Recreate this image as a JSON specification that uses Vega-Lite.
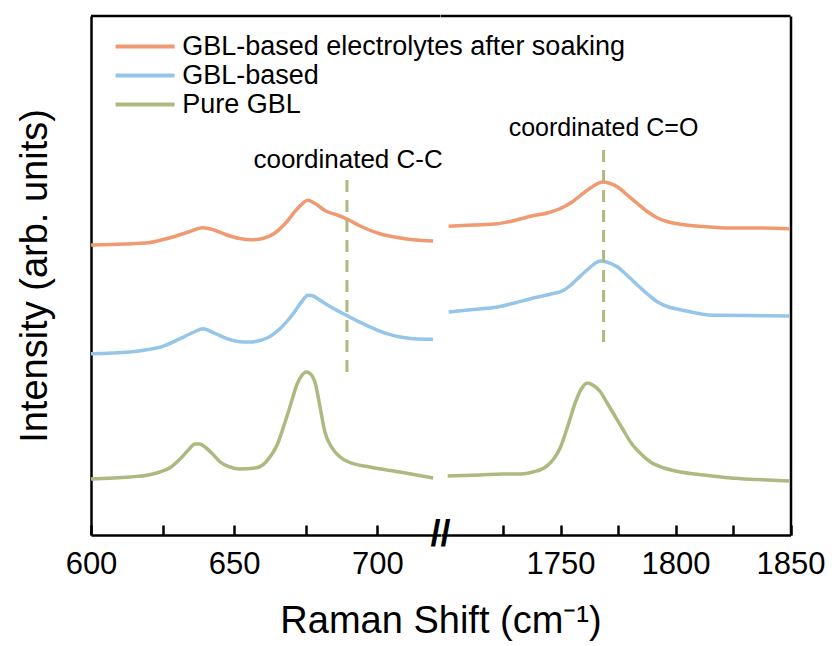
{
  "$schema": "https://vega.github.io/schema/vega-lite/v6.json",
  "background": "white",
  "padding": {"left": 16, "top": 14, "right": 30, "bottom": 5},
  "spacing": 0,
  "bounds": "flush",
  "config": {"view": {"stroke": null}, "font": "Liberation Sans", "concat": {"spacing": 0}},
  "resolve": {"legend": {"color": "independent"}},
  "datasets": {
    "spectra": [
      {"s": "GBL-based electrolytes after soaking", "seg": "L", "x": 600, "y": 290},
      {"s": "GBL-based electrolytes after soaking", "seg": "L", "x": 612, "y": 291},
      {"s": "GBL-based electrolytes after soaking", "seg": "L", "x": 620, "y": 292.3},
      {"s": "GBL-based electrolytes after soaking", "seg": "L", "x": 628, "y": 297.5},
      {"s": "GBL-based electrolytes after soaking", "seg": "L", "x": 634, "y": 303},
      {"s": "GBL-based electrolytes after soaking", "seg": "L", "x": 639, "y": 307.3},
      {"s": "GBL-based electrolytes after soaking", "seg": "L", "x": 643, "y": 305},
      {"s": "GBL-based electrolytes after soaking", "seg": "L", "x": 647, "y": 300.5},
      {"s": "GBL-based electrolytes after soaking", "seg": "L", "x": 652, "y": 296.5},
      {"s": "GBL-based electrolytes after soaking", "seg": "L", "x": 656, "y": 295.3},
      {"s": "GBL-based electrolytes after soaking", "seg": "L", "x": 660, "y": 296.5},
      {"s": "GBL-based electrolytes after soaking", "seg": "L", "x": 664, "y": 301.5},
      {"s": "GBL-based electrolytes after soaking", "seg": "L", "x": 668, "y": 312},
      {"s": "GBL-based electrolytes after soaking", "seg": "L", "x": 672, "y": 326},
      {"s": "GBL-based electrolytes after soaking", "seg": "L", "x": 675.8, "y": 334.7},
      {"s": "GBL-based electrolytes after soaking", "seg": "L", "x": 678, "y": 332},
      {"s": "GBL-based electrolytes after soaking", "seg": "L", "x": 682, "y": 324},
      {"s": "GBL-based electrolytes after soaking", "seg": "L", "x": 686, "y": 320},
      {"s": "GBL-based electrolytes after soaking", "seg": "L", "x": 689.4, "y": 316},
      {"s": "GBL-based electrolytes after soaking", "seg": "L", "x": 694, "y": 309},
      {"s": "GBL-based electrolytes after soaking", "seg": "L", "x": 700.9, "y": 301.3},
      {"s": "GBL-based electrolytes after soaking", "seg": "L", "x": 707, "y": 297.5},
      {"s": "GBL-based electrolytes after soaking", "seg": "L", "x": 712.5, "y": 295.3},
      {"s": "GBL-based electrolytes after soaking", "seg": "L", "x": 719.5, "y": 294},
      {"s": "GBL-based", "seg": "L", "x": 600, "y": 181.3},
      {"s": "GBL-based", "seg": "L", "x": 613.6, "y": 183},
      {"s": "GBL-based", "seg": "L", "x": 620, "y": 185.5},
      {"s": "GBL-based", "seg": "L", "x": 625.1, "y": 188.7},
      {"s": "GBL-based", "seg": "L", "x": 631.1, "y": 196.3},
      {"s": "GBL-based", "seg": "L", "x": 636, "y": 203},
      {"s": "GBL-based", "seg": "L", "x": 639.1, "y": 206.3},
      {"s": "GBL-based", "seg": "L", "x": 643, "y": 202},
      {"s": "GBL-based", "seg": "L", "x": 647.5, "y": 196.3},
      {"s": "GBL-based", "seg": "L", "x": 652, "y": 193.3},
      {"s": "GBL-based", "seg": "L", "x": 655.5, "y": 193},
      {"s": "GBL-based", "seg": "L", "x": 659, "y": 194.5},
      {"s": "GBL-based", "seg": "L", "x": 661.5, "y": 197},
      {"s": "GBL-based", "seg": "L", "x": 666, "y": 206.3},
      {"s": "GBL-based", "seg": "L", "x": 670.6, "y": 221.3},
      {"s": "GBL-based", "seg": "L", "x": 673.5, "y": 233},
      {"s": "GBL-based", "seg": "L", "x": 675.8, "y": 239.7},
      {"s": "GBL-based", "seg": "L", "x": 678, "y": 238.5},
      {"s": "GBL-based", "seg": "L", "x": 680, "y": 234.7},
      {"s": "GBL-based", "seg": "L", "x": 683.5, "y": 228.5},
      {"s": "GBL-based", "seg": "L", "x": 687, "y": 223},
      {"s": "GBL-based", "seg": "L", "x": 695, "y": 211.3},
      {"s": "GBL-based", "seg": "L", "x": 703.4, "y": 201.3},
      {"s": "GBL-based", "seg": "L", "x": 712.5, "y": 196.3},
      {"s": "GBL-based", "seg": "L", "x": 719.5, "y": 195.7},
      {"s": "Pure GBL", "seg": "L", "x": 600, "y": 56},
      {"s": "Pure GBL", "seg": "L", "x": 613.6, "y": 58},
      {"s": "Pure GBL", "seg": "L", "x": 620, "y": 60},
      {"s": "Pure GBL", "seg": "L", "x": 624.1, "y": 63},
      {"s": "Pure GBL", "seg": "L", "x": 628, "y": 68},
      {"s": "Pure GBL", "seg": "L", "x": 631.1, "y": 76},
      {"s": "Pure GBL", "seg": "L", "x": 634, "y": 85},
      {"s": "Pure GBL", "seg": "L", "x": 636.3, "y": 91},
      {"s": "Pure GBL", "seg": "L", "x": 638, "y": 91},
      {"s": "Pure GBL", "seg": "L", "x": 639.8, "y": 88},
      {"s": "Pure GBL", "seg": "L", "x": 642.5, "y": 81},
      {"s": "Pure GBL", "seg": "L", "x": 645.1, "y": 73},
      {"s": "Pure GBL", "seg": "L", "x": 648.5, "y": 68},
      {"s": "Pure GBL", "seg": "L", "x": 652, "y": 66},
      {"s": "Pure GBL", "seg": "L", "x": 657.3, "y": 67},
      {"s": "Pure GBL", "seg": "L", "x": 660, "y": 70},
      {"s": "Pure GBL", "seg": "L", "x": 662.5, "y": 78},
      {"s": "Pure GBL", "seg": "L", "x": 665, "y": 90},
      {"s": "Pure GBL", "seg": "L", "x": 667.8, "y": 113},
      {"s": "Pure GBL", "seg": "L", "x": 670, "y": 133},
      {"s": "Pure GBL", "seg": "L", "x": 672, "y": 151},
      {"s": "Pure GBL", "seg": "L", "x": 673.5, "y": 159},
      {"s": "Pure GBL", "seg": "L", "x": 675.2, "y": 163},
      {"s": "Pure GBL", "seg": "L", "x": 676.7, "y": 161},
      {"s": "Pure GBL", "seg": "L", "x": 678.5, "y": 150},
      {"s": "Pure GBL", "seg": "L", "x": 680, "y": 128},
      {"s": "Pure GBL", "seg": "L", "x": 681.7, "y": 103},
      {"s": "Pure GBL", "seg": "L", "x": 684, "y": 88},
      {"s": "Pure GBL", "seg": "L", "x": 687, "y": 78},
      {"s": "Pure GBL", "seg": "L", "x": 690, "y": 73},
      {"s": "Pure GBL", "seg": "L", "x": 697.4, "y": 68},
      {"s": "Pure GBL", "seg": "L", "x": 707.9, "y": 63},
      {"s": "Pure GBL", "seg": "L", "x": 719.5, "y": 57},
      {"s": "GBL-based electrolytes after soaking", "seg": "R", "x": 1701.3, "y": 308.7},
      {"s": "GBL-based electrolytes after soaking", "seg": "R", "x": 1712, "y": 310},
      {"s": "GBL-based electrolytes after soaking", "seg": "R", "x": 1722.6, "y": 311.3},
      {"s": "GBL-based electrolytes after soaking", "seg": "R", "x": 1730, "y": 314.5},
      {"s": "GBL-based electrolytes after soaking", "seg": "R", "x": 1737, "y": 318.7},
      {"s": "GBL-based electrolytes after soaking", "seg": "R", "x": 1745, "y": 322.5},
      {"s": "GBL-based electrolytes after soaking", "seg": "R", "x": 1751.3, "y": 328},
      {"s": "GBL-based electrolytes after soaking", "seg": "R", "x": 1755, "y": 333},
      {"s": "GBL-based electrolytes after soaking", "seg": "R", "x": 1758.7, "y": 339.7},
      {"s": "GBL-based electrolytes after soaking", "seg": "R", "x": 1763, "y": 347},
      {"s": "GBL-based electrolytes after soaking", "seg": "R", "x": 1768.3, "y": 353},
      {"s": "GBL-based electrolytes after soaking", "seg": "R", "x": 1771, "y": 352},
      {"s": "GBL-based electrolytes after soaking", "seg": "R", "x": 1774.8, "y": 348},
      {"s": "GBL-based electrolytes after soaking", "seg": "R", "x": 1779, "y": 340},
      {"s": "GBL-based electrolytes after soaking", "seg": "R", "x": 1783.5, "y": 331.3},
      {"s": "GBL-based electrolytes after soaking", "seg": "R", "x": 1788, "y": 323},
      {"s": "GBL-based electrolytes after soaking", "seg": "R", "x": 1792.2, "y": 317},
      {"s": "GBL-based electrolytes after soaking", "seg": "R", "x": 1797, "y": 313},
      {"s": "GBL-based electrolytes after soaking", "seg": "R", "x": 1802.2, "y": 310.7},
      {"s": "GBL-based electrolytes after soaking", "seg": "R", "x": 1812, "y": 308.5},
      {"s": "GBL-based electrolytes after soaking", "seg": "R", "x": 1823.9, "y": 307},
      {"s": "GBL-based electrolytes after soaking", "seg": "R", "x": 1838.3, "y": 307},
      {"s": "GBL-based electrolytes after soaking", "seg": "R", "x": 1849.5, "y": 306.3},
      {"s": "GBL-based", "seg": "R", "x": 1701.3, "y": 223},
      {"s": "GBL-based", "seg": "R", "x": 1712, "y": 225.5},
      {"s": "GBL-based", "seg": "R", "x": 1722.6, "y": 228},
      {"s": "GBL-based", "seg": "R", "x": 1730, "y": 232},
      {"s": "GBL-based", "seg": "R", "x": 1737, "y": 236.3},
      {"s": "GBL-based", "seg": "R", "x": 1745, "y": 240.5},
      {"s": "GBL-based", "seg": "R", "x": 1751.3, "y": 244.7},
      {"s": "GBL-based", "seg": "R", "x": 1754.5, "y": 250},
      {"s": "GBL-based", "seg": "R", "x": 1757.4, "y": 256.3},
      {"s": "GBL-based", "seg": "R", "x": 1762, "y": 266},
      {"s": "GBL-based", "seg": "R", "x": 1767.4, "y": 274},
      {"s": "GBL-based", "seg": "R", "x": 1770, "y": 273},
      {"s": "GBL-based", "seg": "R", "x": 1774.8, "y": 268},
      {"s": "GBL-based", "seg": "R", "x": 1779, "y": 259.5},
      {"s": "GBL-based", "seg": "R", "x": 1783.5, "y": 249.7},
      {"s": "GBL-based", "seg": "R", "x": 1788, "y": 240.5},
      {"s": "GBL-based", "seg": "R", "x": 1792.2, "y": 233},
      {"s": "GBL-based", "seg": "R", "x": 1797, "y": 228},
      {"s": "GBL-based", "seg": "R", "x": 1802.2, "y": 225.3},
      {"s": "GBL-based", "seg": "R", "x": 1816.5, "y": 219.7},
      {"s": "GBL-based", "seg": "R", "x": 1831.3, "y": 219.5},
      {"s": "GBL-based", "seg": "R", "x": 1840, "y": 219.3},
      {"s": "GBL-based", "seg": "R", "x": 1849.5, "y": 219},
      {"s": "Pure GBL", "seg": "R", "x": 1700.9, "y": 59},
      {"s": "Pure GBL", "seg": "R", "x": 1715, "y": 60},
      {"s": "Pure GBL", "seg": "R", "x": 1725, "y": 61},
      {"s": "Pure GBL", "seg": "R", "x": 1732.6, "y": 61},
      {"s": "Pure GBL", "seg": "R", "x": 1738, "y": 63},
      {"s": "Pure GBL", "seg": "R", "x": 1743.5, "y": 68},
      {"s": "Pure GBL", "seg": "R", "x": 1747, "y": 76},
      {"s": "Pure GBL", "seg": "R", "x": 1750, "y": 88},
      {"s": "Pure GBL", "seg": "R", "x": 1753, "y": 108},
      {"s": "Pure GBL", "seg": "R", "x": 1756.5, "y": 133},
      {"s": "Pure GBL", "seg": "R", "x": 1759, "y": 146},
      {"s": "Pure GBL", "seg": "R", "x": 1761.7, "y": 152},
      {"s": "Pure GBL", "seg": "R", "x": 1764, "y": 150},
      {"s": "Pure GBL", "seg": "R", "x": 1767.4, "y": 143},
      {"s": "Pure GBL", "seg": "R", "x": 1770, "y": 133},
      {"s": "Pure GBL", "seg": "R", "x": 1773.9, "y": 118},
      {"s": "Pure GBL", "seg": "R", "x": 1777, "y": 106},
      {"s": "Pure GBL", "seg": "R", "x": 1780.4, "y": 93},
      {"s": "Pure GBL", "seg": "R", "x": 1785, "y": 81},
      {"s": "Pure GBL", "seg": "R", "x": 1789.1, "y": 73},
      {"s": "Pure GBL", "seg": "R", "x": 1795, "y": 67},
      {"s": "Pure GBL", "seg": "R", "x": 1802.2, "y": 63},
      {"s": "Pure GBL", "seg": "R", "x": 1812, "y": 60},
      {"s": "Pure GBL", "seg": "R", "x": 1823.9, "y": 57},
      {"s": "Pure GBL", "seg": "R", "x": 1835, "y": 55.5},
      {"s": "Pure GBL", "seg": "R", "x": 1849.5, "y": 54}
    ]
  },
  "hconcat": [
    {
      "width": 349.5,
      "height": 519,
      "layer": [
        {
          "data": {"name": "spectra"},
          "transform": [{"filter": "datum.seg === 'L'"}],
          "mark": {"type": "line", "interpolate": "monotone", "strokeWidth": 3.5},
          "encoding": {
            "x": {"field": "x", "type": "quantitative",
              "scale": {"domain": [600, 722.08], "nice": false, "zero": false},
              "axis": {"values": [600, 625, 650, 675, 700], "format": "d",
                "labelExpr": "datum.value % 50 === 0 ? datum.label : ''",
                "tickSize": -10,
                "tickWidth": 2.5, "tickColor": "black", "domainColor": "black", "domainWidth": 2.5,
                "labelFontSize": 31, "labelColor": "black", "labelPadding": 24, "labelFlush": false, "labelOverlap": false,
                "grid": false,
                "title": "Raman Shift (cm⁻¹)", "titleFontSize": 38, "titleFontWeight": "normal", "titleColor": "black",
                "titleX": 349.5, "titleY": 97, "titleAlign": "center", "titleBaseline": "alphabetic"}},
            "y": {"field": "y", "type": "quantitative",
              "scale": {"domain": [0, 519], "nice": false, "zero": false},
              "axis": {"labels": false, "ticks": false, "grid": false, "domainColor": "black", "domainWidth": 2.5,
                "title": "Intensity (arb. units)", "titleFontSize": 38, "titleFontWeight": "normal", "titleColor": "black",
                "titleX": -56, "titleY": 259.5, "titleAngle": -90, "titleAlign": "center", "titleBaseline": "middle"}},
            "color": {"field": "s", "type": "nominal",
              "scale": {"domain": ["GBL-based electrolytes after soaking", "GBL-based", "Pure GBL"], "range": ["#EF9A70", "#95C5E9", "#ACBA80"]},
              "legend": {"orient": "none", "legendX": 40.6, "legendY": 17, "title": null, "padding": 0,
                "symbolType": "M-3,0H3", "symbolSize": 387, "symbolStrokeWidth": 4,
                "labelFontSize": 27, "labelColor": "black", "labelFont": "Liberation Sans", "labelOffset": 23.6, "rowPadding": 1, "labelLimit": 600}}
          }
        },
        {
          "data": {"values": [{}]},
          "mark": {"type": "rule", "strokeDash": [12, 8], "strokeWidth": 3, "color": "#ACBA80"},
          "encoding": {"x": {"datum": 689.4}, "y": {"datum": 163}, "y2": {"datum": 355}}
        },
        {
          "data": {"values": [{}]},
          "mark": {"type": "text", "fontSize": 26, "color": "black", "align": "center", "baseline": "middle"},
          "encoding": {"x": {"datum": 689.8}, "y": {"datum": 375}, "text": {"value": "coordinated C-C"}}
        },
        {
          "data": {"values": [{}]},
          "mark": {"type": "rule", "color": "black", "strokeWidth": 2.5},
          "encoding": {"y": {"datum": 519}}
        },
        {
          "data": {"values": [{}]},
          "mark": {"type": "text", "fontSize": 36, "fontWeight": "bold", "color": "black", "align": "center", "baseline": "middle"},
          "encoding": {"x": {"datum": 722.08}, "y": {"datum": 0}, "text": {"value": "//"}}
        }
      ]
    },
    {
      "width": 349.5,
      "height": 519,
      "layer": [
        {
          "data": {"name": "spectra"},
          "transform": [{"filter": "datum.seg === 'R'"}],
          "mark": {"type": "line", "interpolate": "monotone", "strokeWidth": 3.5},
          "encoding": {
            "x": {"field": "x", "type": "quantitative",
              "scale": {"domain": [1698, 1850], "nice": false, "zero": false},
              "axis": {"values": [1725, 1750, 1775, 1800, 1825, 1850], "format": "d",
                "labelExpr": "datum.value % 50 === 0 ? datum.label : ''",
                "tickSize": -10,
                "tickWidth": 2.5, "tickColor": "black", "domainColor": "black", "domainWidth": 2.5,
                "labelFontSize": 31, "labelColor": "black", "labelPadding": 24, "labelFlush": false, "labelOverlap": false,
                "grid": false, "title": null}},
            "y": {"field": "y", "type": "quantitative",
              "scale": {"domain": [0, 519], "nice": false, "zero": false},
              "axis": {"orient": "right", "labels": false, "ticks": false, "grid": false, "domainColor": "black", "domainWidth": 2.5, "title": null}},
            "color": {"field": "s", "type": "nominal",
              "scale": {"domain": ["GBL-based electrolytes after soaking", "GBL-based", "Pure GBL"], "range": ["#EF9A70", "#95C5E9", "#ACBA80"]},
              "legend": null}
          }
        },
        {
          "data": {"values": [{}]},
          "mark": {"type": "rule", "strokeDash": [12, 8], "strokeWidth": 3, "color": "#ACBA80"},
          "encoding": {"x": {"datum": 1768.7}, "y": {"datum": 193}, "y2": {"datum": 388}}
        },
        {
          "data": {"values": [{}]},
          "mark": {"type": "text", "fontSize": 25, "color": "black", "align": "center", "baseline": "middle"},
          "encoding": {"x": {"datum": 1768.7}, "y": {"datum": 407}, "text": {"value": "coordinated C=O"}}
        },
        {
          "data": {"values": [{}]},
          "mark": {"type": "rule", "color": "black", "strokeWidth": 2.5},
          "encoding": {"y": {"datum": 519}}
        }
      ]
    }
  ]
}
